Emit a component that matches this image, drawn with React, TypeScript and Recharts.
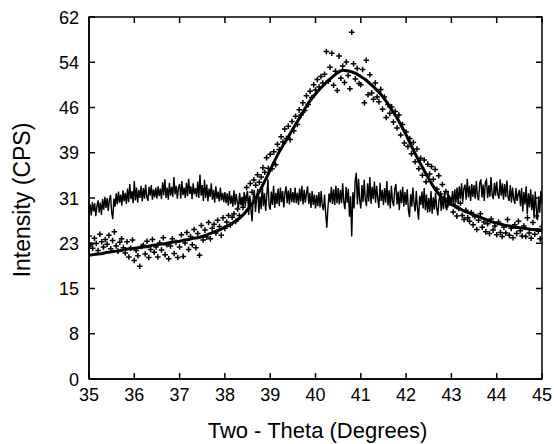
import React from 'react';
import { ComposedChart, Line, Scatter, XAxis, YAxis, ReferenceArea } from 'recharts';

// ---- data (Two-Theta scan, CPS) ----
const scanStart = 35;
const pointStep = 0.04;
const residualStep = 0.025;
const fitStep = 0.1;

// measured intensities (+ marks), 35.00 .. 45.00 every 0.04
const measuredCps = [
  24.5, 23.0, 22.4, 24.1, 23.2, 22.0, 24.8, 23.5, 22.6, 23.9,
  23.1, 24.6, 22.3, 23.7, 25.2, 22.8, 21.9, 23.4, 24.0, 22.5,
  21.6, 23.5, 20.9, 22.4, 23.8, 20.3, 22.0, 21.1, 19.3, 22.7,
  22.9, 21.4, 23.6, 20.8, 22.2, 23.9, 21.7, 22.6, 20.9, 23.3,
  22.1, 24.2, 21.3, 23.0, 20.6, 22.8, 24.0, 21.5, 23.4, 20.8,
  22.6, 24.7, 21.0, 23.3, 25.1, 22.2, 24.4, 23.0, 25.6, 22.5,
  24.9, 21.2, 26.3, 23.8, 25.5, 24.3, 26.8, 24.0, 25.8, 26.5,
  25.0, 27.2, 26.1, 24.6, 27.6, 25.8, 26.9, 28.0, 26.4, 27.7,
  28.3, 27.0, 29.1, 28.0, 30.2, 29.4, 31.0, 32.8, 30.6, 33.5,
  32.0, 34.1, 33.2, 35.0, 33.7, 34.6, 36.2, 35.4, 37.9, 36.1,
  38.5, 36.0, 38.9, 36.7, 40.2, 39.3, 41.5, 40.6, 42.8, 41.2,
  43.3, 41.0, 44.1, 42.5, 45.0, 43.6, 46.1, 45.2, 47.3, 46.0,
  48.5, 47.0, 49.3, 48.2, 50.4, 49.5, 51.3, 50.0, 51.8, 50.7,
  52.2, 56.1, 51.0, 53.4, 55.8, 50.3, 52.7, 49.4, 55.3, 51.5,
  53.6, 50.8, 54.3, 52.0, 49.7, 59.4, 54.0, 51.4, 53.2, 50.6,
  50.4, 53.0, 47.3, 54.6, 48.7, 52.1, 49.0, 47.9, 50.7, 48.3,
  47.5, 49.6, 46.2, 48.3, 44.8, 47.0, 45.5, 46.6, 44.0, 45.8,
  43.0, 45.2, 41.8, 43.6, 40.4, 42.3, 39.8, 41.2, 38.6, 40.5,
  37.2, 39.4, 36.0, 37.8, 34.9, 37.5, 33.8, 36.8, 35.1, 36.4,
  34.2, 35.9, 32.5, 34.8, 31.7, 33.3, 30.9, 32.1, 29.8, 31.0,
  30.4, 28.6, 29.7, 27.9, 29.2, 30.1, 28.0, 27.3, 28.9, 27.6,
  27.0, 28.5, 26.4, 27.8, 25.6, 27.2, 28.3, 26.0, 26.9, 25.2,
  26.6, 24.9, 27.4, 25.5, 26.2, 24.7, 26.9, 25.1, 24.4, 26.0,
  25.0, 27.3, 24.6, 25.8, 24.2, 26.4, 24.9, 27.0, 25.4, 24.5,
  26.2, 24.4, 27.6, 25.0, 24.1, 26.8, 24.8, 27.9, 25.3, 24.0,
  26.1,
];

// residual trace (offset around 31), 35.000 .. 45.000 every 0.025
const residualCps = [
  28.2, 29.9, 28.0, 30.3, 28.7, 30.1, 27.9, 29.6, 30.6, 28.5, 30.2, 28.1, 30.8, 29.0, 31.2, 29.3, 31.0, 28.8, 30.7, 31.5,
  28.6, 27.4, 30.9, 29.5, 31.8, 29.9, 32.1, 30.2, 31.6, 29.7, 32.3, 30.4, 31.9, 30.0, 32.6, 30.3, 33.4, 30.8, 32.2, 30.1,
  33.9, 30.6, 32.8, 30.2, 32.4, 31.0, 33.1, 30.4, 32.7, 30.9, 33.3, 31.2, 30.5, 32.9, 31.4, 33.2, 30.7, 32.5, 31.1, 32.8,
  30.9, 33.0, 31.3, 32.6, 30.8, 33.7, 31.5, 34.2, 31.0, 32.8, 30.7, 33.6, 31.4, 32.9, 31.2, 34.6, 31.6, 33.1, 30.9, 32.7,
  33.4, 30.9, 33.9, 31.5, 32.8, 31.0, 33.6, 31.3, 34.3, 31.7, 33.0, 30.8, 33.5, 31.6, 32.7, 31.2, 33.8, 31.0, 35.0, 31.4,
  33.2, 30.5, 34.1, 31.0, 33.3, 30.4, 32.6, 31.2, 33.5, 30.7, 32.4, 30.2, 33.0, 30.9, 32.1, 30.4, 32.8, 30.6, 31.9, 30.3,
  32.0, 30.1, 31.8, 29.7, 32.2, 30.0, 31.4, 29.5, 32.3, 29.8, 31.7, 30.2, 29.3, 31.9, 29.9, 31.2, 29.4, 32.0, 29.6, 31.5,
  32.2, 28.1, 31.4, 29.0, 27.0, 31.2, 32.4, 28.6, 30.9, 32.6, 28.4, 31.3, 29.1, 33.4, 29.6, 31.8, 28.8, 31.5, 34.2, 29.7,
  29.0, 32.1, 29.8, 33.1, 29.3, 31.9, 30.0, 32.6, 29.6, 32.8, 30.3, 32.2, 29.4, 31.8, 33.0, 30.1, 32.3, 29.9, 32.7, 30.3,
  32.0, 30.2, 32.8, 30.1, 31.9, 29.8, 32.6, 30.4, 33.1, 29.9, 32.4, 30.2, 31.8, 33.0, 30.0, 31.9, 29.3, 32.2, 29.8, 31.6,
  29.2, 31.5, 29.6, 32.0, 29.4, 32.2, 29.7, 28.9, 31.6, 28.3, 25.9, 29.4, 31.8, 30.2, 32.9, 30.0, 32.5, 29.8, 33.1, 30.1,
  32.7, 29.9, 32.4, 30.1, 33.5, 30.3, 29.1, 32.9, 30.2, 32.6, 27.8, 31.3, 24.4, 32.0, 29.2, 33.8, 35.3, 29.9, 34.3, 30.6,
  29.2, 33.2, 30.3, 34.1, 30.7, 29.6, 33.5, 30.4, 34.6, 30.0, 32.9, 30.8, 33.8, 30.2, 33.1, 30.9, 29.3, 33.6, 30.5, 32.4,
  29.8, 32.7, 30.2, 33.9, 29.7, 32.3, 29.2, 33.1, 30.4, 29.6, 32.6, 33.4, 29.9, 32.1, 28.9, 32.4, 30.1, 32.9, 29.5, 32.0,
  29.8, 32.5, 29.0, 27.7, 31.7, 29.5, 32.8, 30.1, 28.7, 32.2, 29.3, 27.3, 31.4, 29.8, 32.1, 29.2, 32.7, 28.9, 31.6, 28.5,
  31.0, 28.6, 32.2, 28.3, 31.1, 29.0, 31.9, 29.3, 28.0, 30.6, 31.7, 28.8, 31.3, 29.1, 32.0, 29.4, 28.9, 32.2, 30.0, 31.0,
  30.3, 32.2, 29.9, 32.5, 30.2, 32.8, 30.0, 33.0, 30.8, 33.5, 30.3, 32.6, 33.3, 30.7, 34.3, 31.1, 33.1, 30.5, 33.4, 31.2,
  33.2, 30.9, 33.9, 31.3, 30.6, 33.5, 34.2, 31.1, 33.3, 30.5, 33.7, 34.1, 31.0, 33.2, 31.2, 34.6, 31.5, 30.8, 33.6, 31.4,
  33.8, 31.6, 30.9, 34.2, 31.4, 33.5, 30.7, 33.4, 31.2, 34.0, 31.1, 30.5, 33.2, 30.2, 32.8, 30.8, 30.0, 32.7, 30.5, 31.6,
  32.4, 29.6, 32.7, 28.7, 32.0, 29.9, 33.0, 28.2, 31.8, 29.4, 32.5, 28.9, 31.6, 27.5, 32.1, 29.2, 27.2, 31.3, 28.5, 32.2,
  30.1,
];

// fitted profile, 35.0 .. 45.0 every 0.1
const fittedCps = [
  21.2, 21.3, 21.4, 21.5, 21.7, 21.8, 21.9, 22.0, 22.2, 22.3,
  22.4, 22.5, 22.6, 22.7, 22.9, 23.0, 23.1, 23.2, 23.4, 23.5,
  23.6, 23.8, 23.9, 24.1, 24.2, 24.4, 24.7, 25.0, 25.3, 25.6,
  26.0, 26.4, 26.9, 27.4, 28.1, 29.0, 30.0, 31.2, 32.7, 34.2,
  35.8, 37.4, 38.9, 40.2, 41.5, 42.8, 44.1, 45.4, 46.7, 47.9,
  48.8, 49.7, 50.5, 51.2, 51.9, 52.5, 52.9, 52.8, 52.6, 52.3,
  51.8, 51.3, 50.6, 49.9, 49.1, 48.2, 47.1, 45.9, 44.7, 43.3,
  41.8, 40.2, 38.6, 37.1, 35.7, 34.3, 33.0, 31.9, 31.0, 30.4,
  29.9, 29.5, 29.1, 28.7, 28.4, 28.1, 27.8, 27.5, 27.2, 26.9,
  26.7, 26.5, 26.3, 26.2, 26.0, 25.9, 25.8, 25.7, 25.6, 25.6,
  25.5,
];

const xTicks = [35, 36, 37, 38, 39, 40, 41, 42, 43, 44, 45];
const yTickValues = [0, 7.75, 15.5, 23.25, 31, 38.75, 46.5, 54.25, 62];
const yTickLabels = ['0', '8', '15', '23', '31', '39', '46', '54', '62'];

const xTitle = 'Two - Theta (Degrees)';
const yTitle = 'Intensity (CPS)';

const toRows = (vals: number[], step: number) =>
  vals.map((y, i) => ({ x: +(scanStart + i * step).toFixed(3), y }));

const pointRows = toRows(measuredCps, pointStep);
const residualRows = toRows(residualCps, residualStep);
const fitRows = toRows(fittedCps, fitStep);

// ---- layout ----
const W = 554;
const H = 444;
const M = { top: 17, right: 12, bottom: 0, left: 0 };
const Y_AXIS_W = 89;
const X_AXIS_H = 65;
const PLOT_W = W - M.left - M.right - Y_AXIS_W;
const PLOT_H = H - M.top - M.bottom - X_AXIS_H;
const TICK = 6;
const FONT = '"Liberation Sans", Arial, Helvetica, sans-serif';

const XTick = (props: any) => {
  const { x, y, payload } = props;
  return (
    <g>
      <line x1={x} y1={y} x2={x} y2={y - TICK} stroke="#000" strokeWidth={1.5} />
      <line x1={x} y1={y - PLOT_H} x2={x} y2={y - PLOT_H + TICK} stroke="#000" strokeWidth={1.5} />
      <text x={x} y={y + 22} textAnchor="middle" fontSize={18} fontFamily={FONT} fill="#000">
        {payload.value}
      </text>
    </g>
  );
};

const YTick = (props: any) => {
  const { x, y, payload } = props;
  const idx = yTickValues.indexOf(payload.value);
  return (
    <g>
      <line x1={x} y1={y} x2={x + TICK} y2={y} stroke="#000" strokeWidth={1.5} />
      <line x1={x + PLOT_W} y1={y} x2={x + PLOT_W - TICK} y2={y} stroke="#000" strokeWidth={1.5} />
      <text x={x - 10} y={y + 6.5} textAnchor="end" fontSize={18} fontFamily={FONT} fill="#000">
        {idx >= 0 ? yTickLabels[idx] : payload.value}
      </text>
    </g>
  );
};

const PlusMark = (props: any) => {
  const { cx, cy } = props;
  if (cx == null || cy == null) return null;
  const r = 2.8;
  return (
    <path
      d={`M${cx - r},${cy}H${cx + r}M${cx},${cy - r}V${cy + r}`}
      stroke="#000"
      strokeWidth={1.5}
      fill="none"
    />
  );
};

const XTitle = (props: any) => {
  const vb = props.viewBox || { x: Y_AXIS_W, y: M.top + PLOT_H, width: PLOT_W, height: X_AXIS_H };
  return (
    <text x={vb.x + vb.width / 2 + 2} y={vb.y + 59} textAnchor="middle" fontSize={22} fontFamily={FONT} fill="#000">
      {xTitle}
    </text>
  );
};

const YTitle = (props: any) => {
  const vb = props.viewBox || { x: 0, y: M.top, width: Y_AXIS_W, height: PLOT_H };
  const cx = 22;
  const cy = vb.y + vb.height / 2 + 2;
  return (
    <text
      x={cx}
      y={cy}
      transform={`rotate(-90, ${cx}, ${cy})`}
      textAnchor="middle"
      dominantBaseline="central"
      fontSize={23}
      fontFamily={FONT}
      fill="#000"
    >
      {yTitle}
    </text>
  );
};

export default function App() {
  return (
    <div style={{ position: 'absolute', left: 0, top: 0, width: W, height: H, background: '#fff' }}>
      <ComposedChart width={W} height={H} margin={M}>
        <XAxis
          type="number"
          dataKey="x"
          domain={[35, 45]}
          ticks={xTicks}
          interval={0}
          allowDataOverflow
          height={X_AXIS_H}
          tickSize={0}
          tickMargin={0}
          tickLine={false}
          axisLine={{ stroke: '#000', strokeWidth: 1.5 }}
          tick={XTick}
          label={{ content: XTitle }}
        />
        <YAxis
          type="number"
          domain={[0, 62]}
          ticks={yTickValues}
          interval={0}
          allowDataOverflow
          width={Y_AXIS_W}
          tickSize={0}
          tickMargin={0}
          tickLine={false}
          axisLine={{ stroke: '#000', strokeWidth: 1.5 }}
          tick={YTick}
          label={{ content: YTitle }}
        />
        <ReferenceArea x1={35} x2={45} y1={0} y2={62} fill="none" fillOpacity={0} stroke="#000" strokeWidth={1.5} />
        <Scatter data={pointRows} dataKey="y" shape={PlusMark} isAnimationActive={false} />
        <Line
          data={residualRows}
          dataKey="y"
          type="linear"
          dot={false}
          stroke="#000"
          strokeWidth={1.4}
          isAnimationActive={false}
        />
        <Line
          data={fitRows}
          dataKey="y"
          type="monotone"
          dot={false}
          stroke="#000"
          strokeWidth={3}
          isAnimationActive={false}
        />
      </ComposedChart>
    </div>
  );
}
